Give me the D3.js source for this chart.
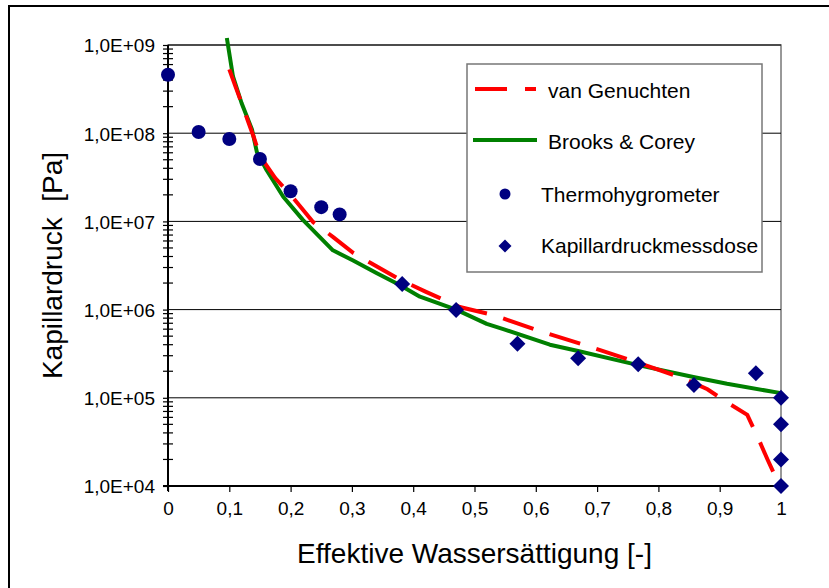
<!DOCTYPE html>
<html>
<head>
<meta charset="utf-8">
<script src="https://cdn.jsdelivr.net/npm/d3@7"></script>
<style>
  body { margin: 0; background: #fff; }
  svg { display: block; font-family: "Liberation Sans", Arial, sans-serif; }
</style>
</head>
<body>
<div id="container"></div>
<script>
const WIDTH = 829;
const HEIGHT = 588;
const LEFT = 168;
const RIGHT = 781;
const TOP = 45;
const BOTTOM = 486;

// x = effective saturation, y = capillary pressure [Pa]
var VAN_GENUCHTEN = [
    {x: 0.100, y: 5.3e8}, {x: 0.110, y: 3.4e8}, {x: 0.120, y: 2.2e8}, {x: 0.130, y: 1.4e8},
    {x: 0.140, y: 9.0e7}, {x: 0.150, y: 5.5e7}, {x: 0.175, y: 3.1e7}, {x: 0.200, y: 2.0e7},
    {x: 0.237, y: 9.8e6}, {x: 0.270, y: 6.6e6}, {x: 0.302, y: 4.4e6}, {x: 0.330, y: 3.4e6},
    {x: 0.378, y: 2.2e6}, {x: 0.420, y: 1.6e6}, {x: 0.476, y: 1.07e6}, {x: 0.530, y: 8.7e5},
    {x: 0.610, y: 5.6e5}, {x: 0.688, y: 3.8e5}, {x: 0.767, y: 2.5e5}, {x: 0.840, y: 1.67e5},
    {x: 0.880, y: 1.25e5}, {x: 0.914, y: 8.7e4}, {x: 0.945, y: 6.4e4}, {x: 0.966, y: 3.1e4},
    {x: 0.978, y: 2.0e4}, {x: 0.998, y: 1.0e4}];

var BROOKS_COREY = [
    {x: 0.096, y: 1.2e9}, {x: 0.106, y: 4.4e8}, {x: 0.120, y: 2.2e8}, {x: 0.137, y: 1.1e8},
    {x: 0.145, y: 6.1e7}, {x: 0.161, y: 3.8e7}, {x: 0.188, y: 1.9e7}, {x: 0.220, y: 1.04e7},
    {x: 0.269, y: 4.7e6}, {x: 0.302, y: 3.6e6}, {x: 0.340, y: 2.6e6}, {x: 0.378, y: 1.9e6},
    {x: 0.411, y: 1.4e6}, {x: 0.470, y: 1.0e6}, {x: 0.520, y: 6.9e5}, {x: 0.547, y: 6.0e5},
    {x: 0.623, y: 4.0e5}, {x: 0.669, y: 3.4e5}, {x: 0.767, y: 2.35e5}, {x: 0.857, y: 1.72e5},
    {x: 0.912, y: 1.44e5}, {x: 1.000, y: 1.13e5}];

var THERMOHYGROMETER = [
    {x: 0, y: 4.6e8}, {x: 0.05, y: 1.03e8}, {x: 0.10, y: 8.6e7}, {x: 0.15, y: 5.1e7},
    {x: 0.20, y: 2.2e7}, {x: 0.25, y: 1.45e7}, {x: 0.28, y: 1.2e7}];

var MESSDOSE = [
    {x: 0.382, y: 1.95e6}, {x: 0.470, y: 9.9e5}, {x: 0.570, y: 4.1e5}, {x: 0.669, y: 2.8e5},
    {x: 0.767, y: 2.4e5}, {x: 0.858, y: 1.4e5}, {x: 0.959, y: 1.9e5}, {x: 1.0, y: 1.0e5},
    {x: 1.0, y: 5.0e4}, {x: 1.0, y: 2.0e4}, {x: 1.0, y: 1.0e4}];

var X_TICKS = [0, 0.1, 0.2, 0.3, 0.4, 0.5, 0.6, 0.7, 0.8, 0.9, 1];
var X_LABELS = ["0", "0,1", "0,2", "0,3", "0,4", "0,5", "0,6", "0,7", "0,8", "0,9", "1"];
var Y_TICKS = [1e4, 1e5, 1e6, 1e7, 1e8, 1e9];
var Y_LABELS = ["1,0E+04", "1,0E+05", "1,0E+06", "1,0E+07", "1,0E+08", "1,0E+09"];
var LEGEND = ["van Genuchten", "Brooks & Corey", "Thermohygrometer", "Kapillardruckmessdose"];

var SVG;

var XScale = d3.scaleLinear().domain([0, 1]).range([LEFT, RIGHT]);
var YScale = d3.scaleLog().domain([1e4, 1e9]).range([BOTTOM, TOP]);

var line = d3.line()
    .x(function (d) { return XScale(d.x); })
    .y(function (d) { return YScale(d.y); });

var diamond = function (cx, cy, r) {
    return "M" + cx + "," + (cy - r) + "L" + (cx + r) + "," + cy +
        "L" + cx + "," + (cy + r) + "L" + (cx - r) + "," + cy + "Z";
};

var drawFrame = function (svg) {
    svg.append("rect")
        .attr("x", 9).attr("y", 6)
        .attr("width", WIDTH + 20).attr("height", HEIGHT + 20)
        .attr("fill", "#fff").attr("stroke", "#000").attr("stroke-width", 2);

    svg.append("rect")
        .attr("x", LEFT).attr("y", TOP)
        .attr("width", RIGHT - LEFT).attr("height", BOTTOM - TOP)
        .attr("fill", "none").attr("stroke", "#777").attr("stroke-width", 1.5);
};

var drawAxes = function (svg) {
    // horizontal grid
    svg.append("g").selectAll("line").data(Y_TICKS.slice(1))
        .enter().append("line")
        .attr("x1", LEFT).attr("x2", RIGHT)
        .attr("y1", function (d) { return YScale(d); })
        .attr("y2", function (d) { return YScale(d); })
        .attr("stroke", "#000").attr("stroke-width", 1);

    var yAxis = d3.axisLeft(YScale)
        .tickValues(Y_TICKS)
        .tickSize(5)
        .tickFormat(function (d, i) { return Y_LABELS[i]; });
    var gy = svg.append("g")
        .attr("transform", "translate(" + LEFT + ",0)")
        .call(yAxis);
    gy.select(".domain").remove();
    gy.selectAll("text").attr("font-size", 19).attr("fill", "#000").attr("x", -13).attr("dy", "0.36em");
    gy.selectAll("line").attr("stroke", "#000").attr("stroke-width", 1.2);

    // minor log ticks crossing the axis
    var minors = [];
    for (var e = 4; e < 9; e++) {
        for (var m = 2; m <= 9; m++) minors.push(m * Math.pow(10, e));
    }
    svg.append("g").selectAll("line").data(minors)
        .enter().append("line")
        .attr("x1", LEFT - 5).attr("x2", LEFT + 5)
        .attr("y1", function (d) { return YScale(d); })
        .attr("y2", function (d) { return YScale(d); })
        .attr("stroke", "#000").attr("stroke-width", 1.2);

    var xAxis = d3.axisBottom(XScale)
        .tickValues(X_TICKS)
        .tickSize(6)
        .tickFormat(function (d, i) { return X_LABELS[i]; });
    var gx = svg.append("g")
        .attr("transform", "translate(0," + BOTTOM + ")")
        .call(xAxis);
    gx.select(".domain").remove();
    gx.selectAll("text").attr("font-size", 19).attr("fill", "#000").attr("y", 16).attr("dy", "0.71em");
    gx.selectAll("line").attr("stroke", "#000").attr("stroke-width", 1.2);

    svg.append("line")
        .attr("x1", LEFT - 5).attr("x2", RIGHT)
        .attr("y1", BOTTOM).attr("y2", BOTTOM)
        .attr("stroke", "#000").attr("stroke-width", 2);
    svg.append("line")
        .attr("x1", LEFT).attr("x2", LEFT)
        .attr("y1", TOP).attr("y2", BOTTOM + 5)
        .attr("stroke", "#000").attr("stroke-width", 2);

    svg.append("text")
        .attr("x", (LEFT + RIGHT) / 2).attr("y", 563)
        .attr("text-anchor", "middle").attr("font-size", 28)
        .text("Effektive Wassersättigung [-]");

    svg.append("text")
        .attr("transform", "translate(62," + (TOP + BOTTOM) / 2 + ") rotate(-90)")
        .attr("text-anchor", "middle").attr("font-size", 28)
        .style("white-space", "pre")
        .text("Kapillardruck  [Pa]");
};

var drawSeries = function (svg) {
    svg.append("path")
        .datum(BROOKS_COREY)
        .attr("d", line)
        .attr("fill", "none").attr("stroke", "#008000").attr("stroke-width", 4)
        .attr("stroke-linejoin", "round");

    svg.append("path")
        .datum(VAN_GENUCHTEN)
        .attr("d", line)
        .attr("fill", "none").attr("stroke", "#ff0000").attr("stroke-width", 4)
        .attr("stroke-dasharray", "32,17");

    svg.append("g").selectAll("circle").data(THERMOHYGROMETER)
        .enter().append("circle")
        .attr("cx", function (d) { return XScale(d.x); })
        .attr("cy", function (d) { return YScale(d.y); })
        .attr("r", 7)
        .attr("fill", "#000080");

    svg.append("g").selectAll("path").data(MESSDOSE)
        .enter().append("path")
        .attr("d", function (d) { return diamond(XScale(d.x), YScale(d.y), 8); })
        .attr("fill", "#000080");
};

var drawLegend = function (svg) {
    var g = svg.append("g");
    g.append("rect")
        .attr("x", 467).attr("y", 64).attr("width", 295).attr("height", 208)
        .attr("fill", "#fff").attr("stroke", "#777").attr("stroke-width", 1.5);

    g.append("line").attr("x1", 475).attr("x2", 507).attr("y1", 89).attr("y2", 89)
        .attr("stroke", "#ff0000").attr("stroke-width", 4);
    g.append("line").attr("x1", 525).attr("x2", 536).attr("y1", 89).attr("y2", 89)
        .attr("stroke", "#ff0000").attr("stroke-width", 4);
    g.append("line").attr("x1", 473).attr("x2", 537).attr("y1", 140).attr("y2", 140)
        .attr("stroke", "#008000").attr("stroke-width", 4);
    g.append("circle").attr("cx", 505).attr("cy", 194).attr("r", 5.5).attr("fill", "#000080");
    g.append("path").attr("d", diamond(505, 246, 6.5)).attr("fill", "#000080");

    var pos = [[548, 98], [548, 149], [541, 202], [541, 253]];
    g.selectAll("text").data(LEGEND)
        .enter().append("text")
        .attr("x", function (d, i) { return pos[i][0]; })
        .attr("y", function (d, i) { return pos[i][1]; })
        .attr("font-size", 21)
        .text(function (d) { return d; });
};

var generateChart = function () {
    SVG = d3.select("#container").append("svg")
        .attr("width", WIDTH)
        .attr("height", HEIGHT);
    drawFrame(SVG);
    drawAxes(SVG);
    drawSeries(SVG);
    drawLegend(SVG);
};

window.onload = generateChart;
</script>
</body>
</html>
